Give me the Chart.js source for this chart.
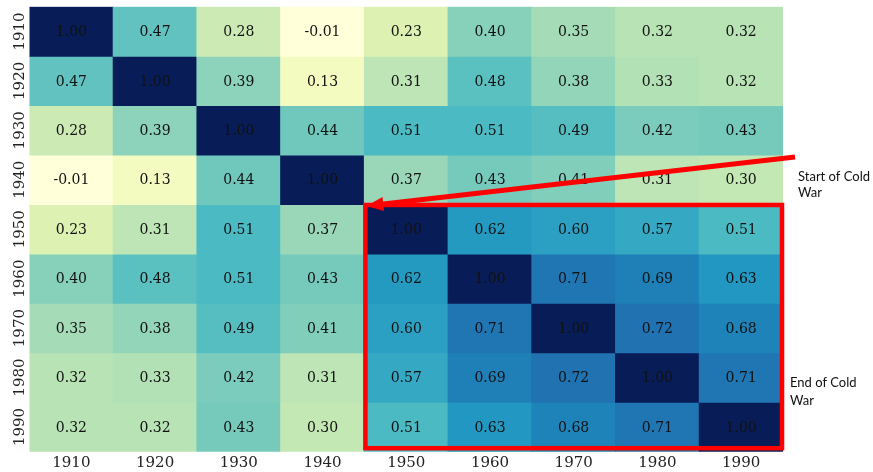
<!DOCTYPE html>
<html><head><meta charset="utf-8">
<script src="https://cdn.jsdelivr.net/npm/chart.js@4"></script>
<style>html,body{margin:0;padding:0;background:#fff}#wrap{width:873px;height:472px;position:relative}</style>
</head><body><div id="wrap"><canvas id="c"></canvas></div>
<script>
const years = ['1910','1920','1930','1940','1950','1960','1970','1980','1990'];
const row1910 = [1.00, 0.47, 0.28, -0.01, 0.23, 0.40, 0.35, 0.32, 0.32];
const row1920 = [0.47, 1.00, 0.39, 0.13, 0.31, 0.48, 0.38, 0.33, 0.32];
const row1930 = [0.28, 0.39, 1.00, 0.44, 0.51, 0.51, 0.49, 0.42, 0.43];
const row1940 = [-0.01, 0.13, 0.44, 1.00, 0.37, 0.43, 0.41, 0.31, 0.30];
const row1950 = [0.23, 0.31, 0.51, 0.37, 1.00, 0.62, 0.60, 0.57, 0.51];
const row1960 = [0.40, 0.48, 0.51, 0.43, 0.62, 1.00, 0.71, 0.69, 0.63];
const row1970 = [0.35, 0.38, 0.49, 0.41, 0.60, 0.71, 1.00, 0.72, 0.68];
const row1980 = [0.32, 0.33, 0.42, 0.31, 0.57, 0.69, 0.72, 1.00, 0.71];
const row1990 = [0.32, 0.32, 0.43, 0.30, 0.51, 0.63, 0.68, 0.71, 1.00];
const matrix = [row1910,row1920,row1930,row1940,row1950,row1960,row1970,row1980,row1990];
const startNote = ['Start of Cold', 'War'];
const endNote = ['End of Cold', 'War'];
const boxFrom = 4; // index of 1950

const anchors = ['#ffffd9','#edf8b1','#c7e9b4','#7fcdbb','#41b6c4','#1d91c0','#225ea8','#253494','#081d58'];
const vmin = 0.06, vmax = 1.0;
function hex(h){return [1,3,5].map(i=>parseInt(h.substr(i,2),16));}
const A = anchors.map(hex);
function cmap(v){
  let t = (v - vmin)/(vmax - vmin); t = Math.max(0, Math.min(1, t));
  const p = t*(A.length-1); const i = Math.min(Math.floor(p), A.length-2); const f = p - i;
  const c = [0,1,2].map(k=>Math.round(A[i][k] + (A[i+1][k]-A[i][k])*f));
  return `rgb(${c[0]},${c[1]},${c[2]})`;
}

const n = years.length;
const datasets = matrix.map((row, r) => ({
  label: years[r],
  data: row.map(() => [n-1-r, n-r]),
  values: row,
  backgroundColor: row.map(cmap),
  borderWidth: 0,
  inflateAmount: 0.5,
  barPercentage: 1,
  categoryPercentage: 1
}));

const overlay = {
  id: 'overlay',
  afterDatasetsDraw(chart) {
    const ctx = chart.ctx;
    const xs = chart.scales.x, ys = chart.scales.y;
    ctx.save();
    // cell values
    ctx.fillStyle = '#111';
    ctx.font = '14px "DejaVu Serif"';
    ctx.textAlign = 'center';
    ctx.textBaseline = 'middle';
    chart.data.datasets.forEach((ds, di) => {
      const meta = chart.getDatasetMeta(di);
      meta.data.forEach((el, j) => {
        const cy = (el.y + el.base) / 2;
        ctx.fillText(ds.values[j].toFixed(2), el.x, cy + 1);
      });
    });
    // rotated y labels
    ctx.font = '15px "DejaVu Serif"';
    ctx.fillStyle = '#222';
    years.forEach((y, r) => {
      const cy = ys.getPixelForValue(n - r - 0.5);
      ctx.save();
      ctx.translate(20, cy);
      ctx.rotate(-Math.PI/2);
      ctx.fillText(y, 0, 0);
      ctx.restore();
    });
    // red box
    const cw = (xs.right - xs.left) / n;
    const left = xs.getPixelForValue(boxFrom) - cw/2 + 1;
    const top = ys.getPixelForValue(n - boxFrom) + 0.5;
    const right = xs.right - 1;
    const bottom = ys.getPixelForValue(0) - 3.5;
    ctx.strokeStyle = '#ff0000';
    ctx.lineWidth = 4.5;
    ctx.strokeRect(left, top, right - left, bottom - top);
    // arrow
    const sx = xs.right + 12, sy = ys.getPixelForValue(n - 3) + 2;
    const tx = left + 1, ty = top + 1;
    const ang = Math.atan2(ty - sy, tx - sx);
    const hl = 17, hw = 7;
    const bx = tx - hl*Math.cos(ang), by = ty - hl*Math.sin(ang);
    ctx.lineWidth = 5;
    ctx.lineCap = 'butt';
    ctx.beginPath(); ctx.moveTo(sx, sy); ctx.lineTo(bx, by); ctx.stroke();
    ctx.fillStyle = '#ff0000';
    ctx.beginPath();
    ctx.moveTo(tx, ty);
    ctx.lineTo(bx + hw*Math.sin(ang), by - hw*Math.cos(ang));
    ctx.lineTo(bx - hw*Math.sin(ang), by + hw*Math.cos(ang));
    ctx.closePath(); ctx.fill();
    // notes
    ctx.fillStyle = '#111';
    ctx.font = '13px Lato';
    ctx.textAlign = 'left';
    ctx.textBaseline = 'alphabetic';
    startNote.forEach((t, i) => ctx.fillText(t, xs.right + 15, 181 + i*16));
    endNote.forEach((t, i) => ctx.fillText(t, xs.right + 7, 387 + i*17.5));
    ctx.restore();
  }
};

new Chart(document.getElementById('c'), {
  type: 'bar',
  data: { labels: years, datasets },
  options: {
    responsive: true,
    maintainAspectRatio: false,
    animation: false,
    layout: { padding: { left: 29.5, right: 90, top: 6.7, bottom: 0 } },
    plugins: { legend: { display: false }, tooltip: { enabled: false } },
    scales: {
      x: {
        stacked: true,
        grid: { display: false, drawTicks: false },
        border: { display: false },
        ticks: { font: { family: 'DejaVu Serif', size: 15 }, color: '#222', padding: 2, maxRotation: 0 },
        afterFit: s => { s.height = 20.3; }
      },
      y: {
        display: false,
        stacked: false,
        min: 0, max: 9
      }
    }
  },
  plugins: [overlay]
});
</script>
</body></html>
